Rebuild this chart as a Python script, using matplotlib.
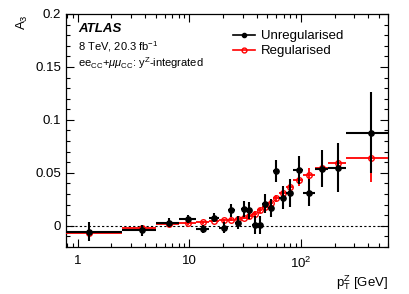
import matplotlib as mpl
mpl.use('Agg')
import matplotlib.pyplot as plt
from matplotlib.lines import Line2D
from matplotlib.ticker import FixedLocator, FuncFormatter, MultipleLocator, LogLocator, NullFormatter
import numpy as np

mpl.rc('font', family=['Liberation Sans', 'DejaVu Sans'])
mpl.rc('mathtext', fontset='custom', rm='Liberation Sans', it='Liberation Sans:italic',
       bf='Liberation Sans:bold')

# pT bin edges [GeV]
edges = [0, 2.5, 5, 8, 11.4, 14.9, 18.5, 22, 25.5, 29, 32.6, 36.4, 40.4, 44.9,
         50.2, 56.4, 63.9, 73.4, 85.4, 105, 132, 173, 253, 600]

unreg = [-0.0054, -0.0044, 0.003, 0.0063, -0.003, 0.0078, -0.0016, 0.0145, 0.003,
         0.0157, 0.0145, 0.001, 0.001, 0.0207, 0.0167, 0.052, 0.0267, 0.0308,
         0.0528, 0.0314, 0.054, 0.055, 0.088]
unreg_err = [0.009, 0.005, 0.004, 0.004, 0.004, 0.004, 0.005, 0.0063, 0.006,
             0.0074, 0.008, 0.0087, 0.0087, 0.009, 0.0087, 0.0105, 0.0105, 0.013,
             0.0134, 0.0126, 0.0176, 0.023, 0.038]

reg = [-0.0065, -0.0024, 0.0013, 0.0022, 0.0035, 0.0047, 0.0052, 0.0057, 0.0066,
       0.0078, 0.0094, 0.0116, 0.0145, 0.0182, 0.022, 0.0258, 0.0308, 0.0365,
       0.0428, 0.0481, 0.0544, 0.0597, 0.0644]
reg_err = [0.002, 0.0015, 0.0015, 0.0015, 0.0015, 0.0015, 0.0015, 0.0015, 0.0015,
           0.0017, 0.0018, 0.002, 0.0022, 0.0025, 0.0028, 0.003, 0.0035, 0.004,
           0.005, 0.0063, 0.016, 0.012, 0.023]

edges = np.array(edges)
centers = 0.5 * (edges[:-1] + edges[1:])
xlo = centers - edges[:-1]
xhi = edges[1:] - centers

fig = plt.figure(figsize=(4.09, 2.94), dpi=100)
ax = fig.add_axes([0.1614, 0.1599, 0.7873, 0.7925])

ax.axhline(0, color='black', ls=(0, (2, 2)), lw=0.8, zorder=1)

ax.errorbar(centers, reg, yerr=reg_err, xerr=[xlo, xhi], fmt='o', color='red',
            mfc='none', mec='red', mew=1.0, ms=4, lw=1.3, capsize=0, zorder=3)
ax.errorbar(centers, unreg, yerr=unreg_err, xerr=[xlo, xhi], fmt='o', color='black',
            ms=3.8, lw=1.5, capsize=0, zorder=4)

ax.set_xscale('log')
ax.set_xlim(0.785, 600)
ax.set_ylim(-0.02, 0.2)

ax.xaxis.set_major_locator(FixedLocator([1, 10, 100]))
ax.xaxis.set_major_formatter(FuncFormatter(
    lambda v, p: {1: '1', 10: '10', 100: r'10$^2$'}.get(int(round(v)), '')))
ax.xaxis.set_minor_locator(LogLocator(base=10, subs=np.arange(2, 10)))
ax.xaxis.set_minor_formatter(NullFormatter())
ax.yaxis.set_major_locator(FixedLocator([0, 0.05, 0.1, 0.15, 0.2]))
ax.yaxis.set_major_formatter(FuncFormatter(
    lambda v, p: {0: '0', 1: '0.05', 2: '0.1', 3: '0.15', 4: '0.2'}[int(round(v / 0.05))]))
ax.yaxis.set_minor_locator(MultipleLocator(0.01))

ax.tick_params(which='both', direction='in', top=True, right=True, labelsize=9.5)
ax.tick_params(which='major', length=6, width=0.8)
ax.tick_params(which='minor', length=3, width=0.8)
ax.tick_params(axis='x', pad=6)
for s in ax.spines.values():
    s.set_linewidth(0.9)

ax.set_ylabel(r'A$_3$', loc='top', fontsize=9.5, labelpad=4)
ax.set_xlabel(r'p$_\mathrm{T}^\mathrm{Z}$ [GeV]', loc='right', fontsize=9.5, labelpad=2)

ax.text(0.037, 0.936, 'ATLAS', transform=ax.transAxes, fontsize=9.5,
        fontweight='bold', fontstyle='italic', va='center')
ax.text(0.037, 0.858, r'8 TeV, 20.3 fb$^{-1}$', transform=ax.transAxes,
        fontsize=8, va='center')
ax.text(0.037, 0.79, r'ee$_{\mathrm{CC}}$+$\mu\mu_{\mathrm{CC}}$: y$^\mathrm{Z}$-integrated',
        transform=ax.transAxes, fontsize=8, va='center')

handles = [Line2D([], [], color='black', marker='o', ms=3, lw=1.2),
           Line2D([], [], color='red', marker='o', mfc='none', ms=3.5, lw=1.2)]
ax.legend(handles, ['Unregularised', 'Regularised'], loc='upper left',
          bbox_to_anchor=(0.49, 0.97), frameon=False, fontsize=9.5,
          handlelength=1.7, handletextpad=0.4, labelspacing=0.2, borderpad=0.2)

fig.savefig('out.png', dpi=100)
